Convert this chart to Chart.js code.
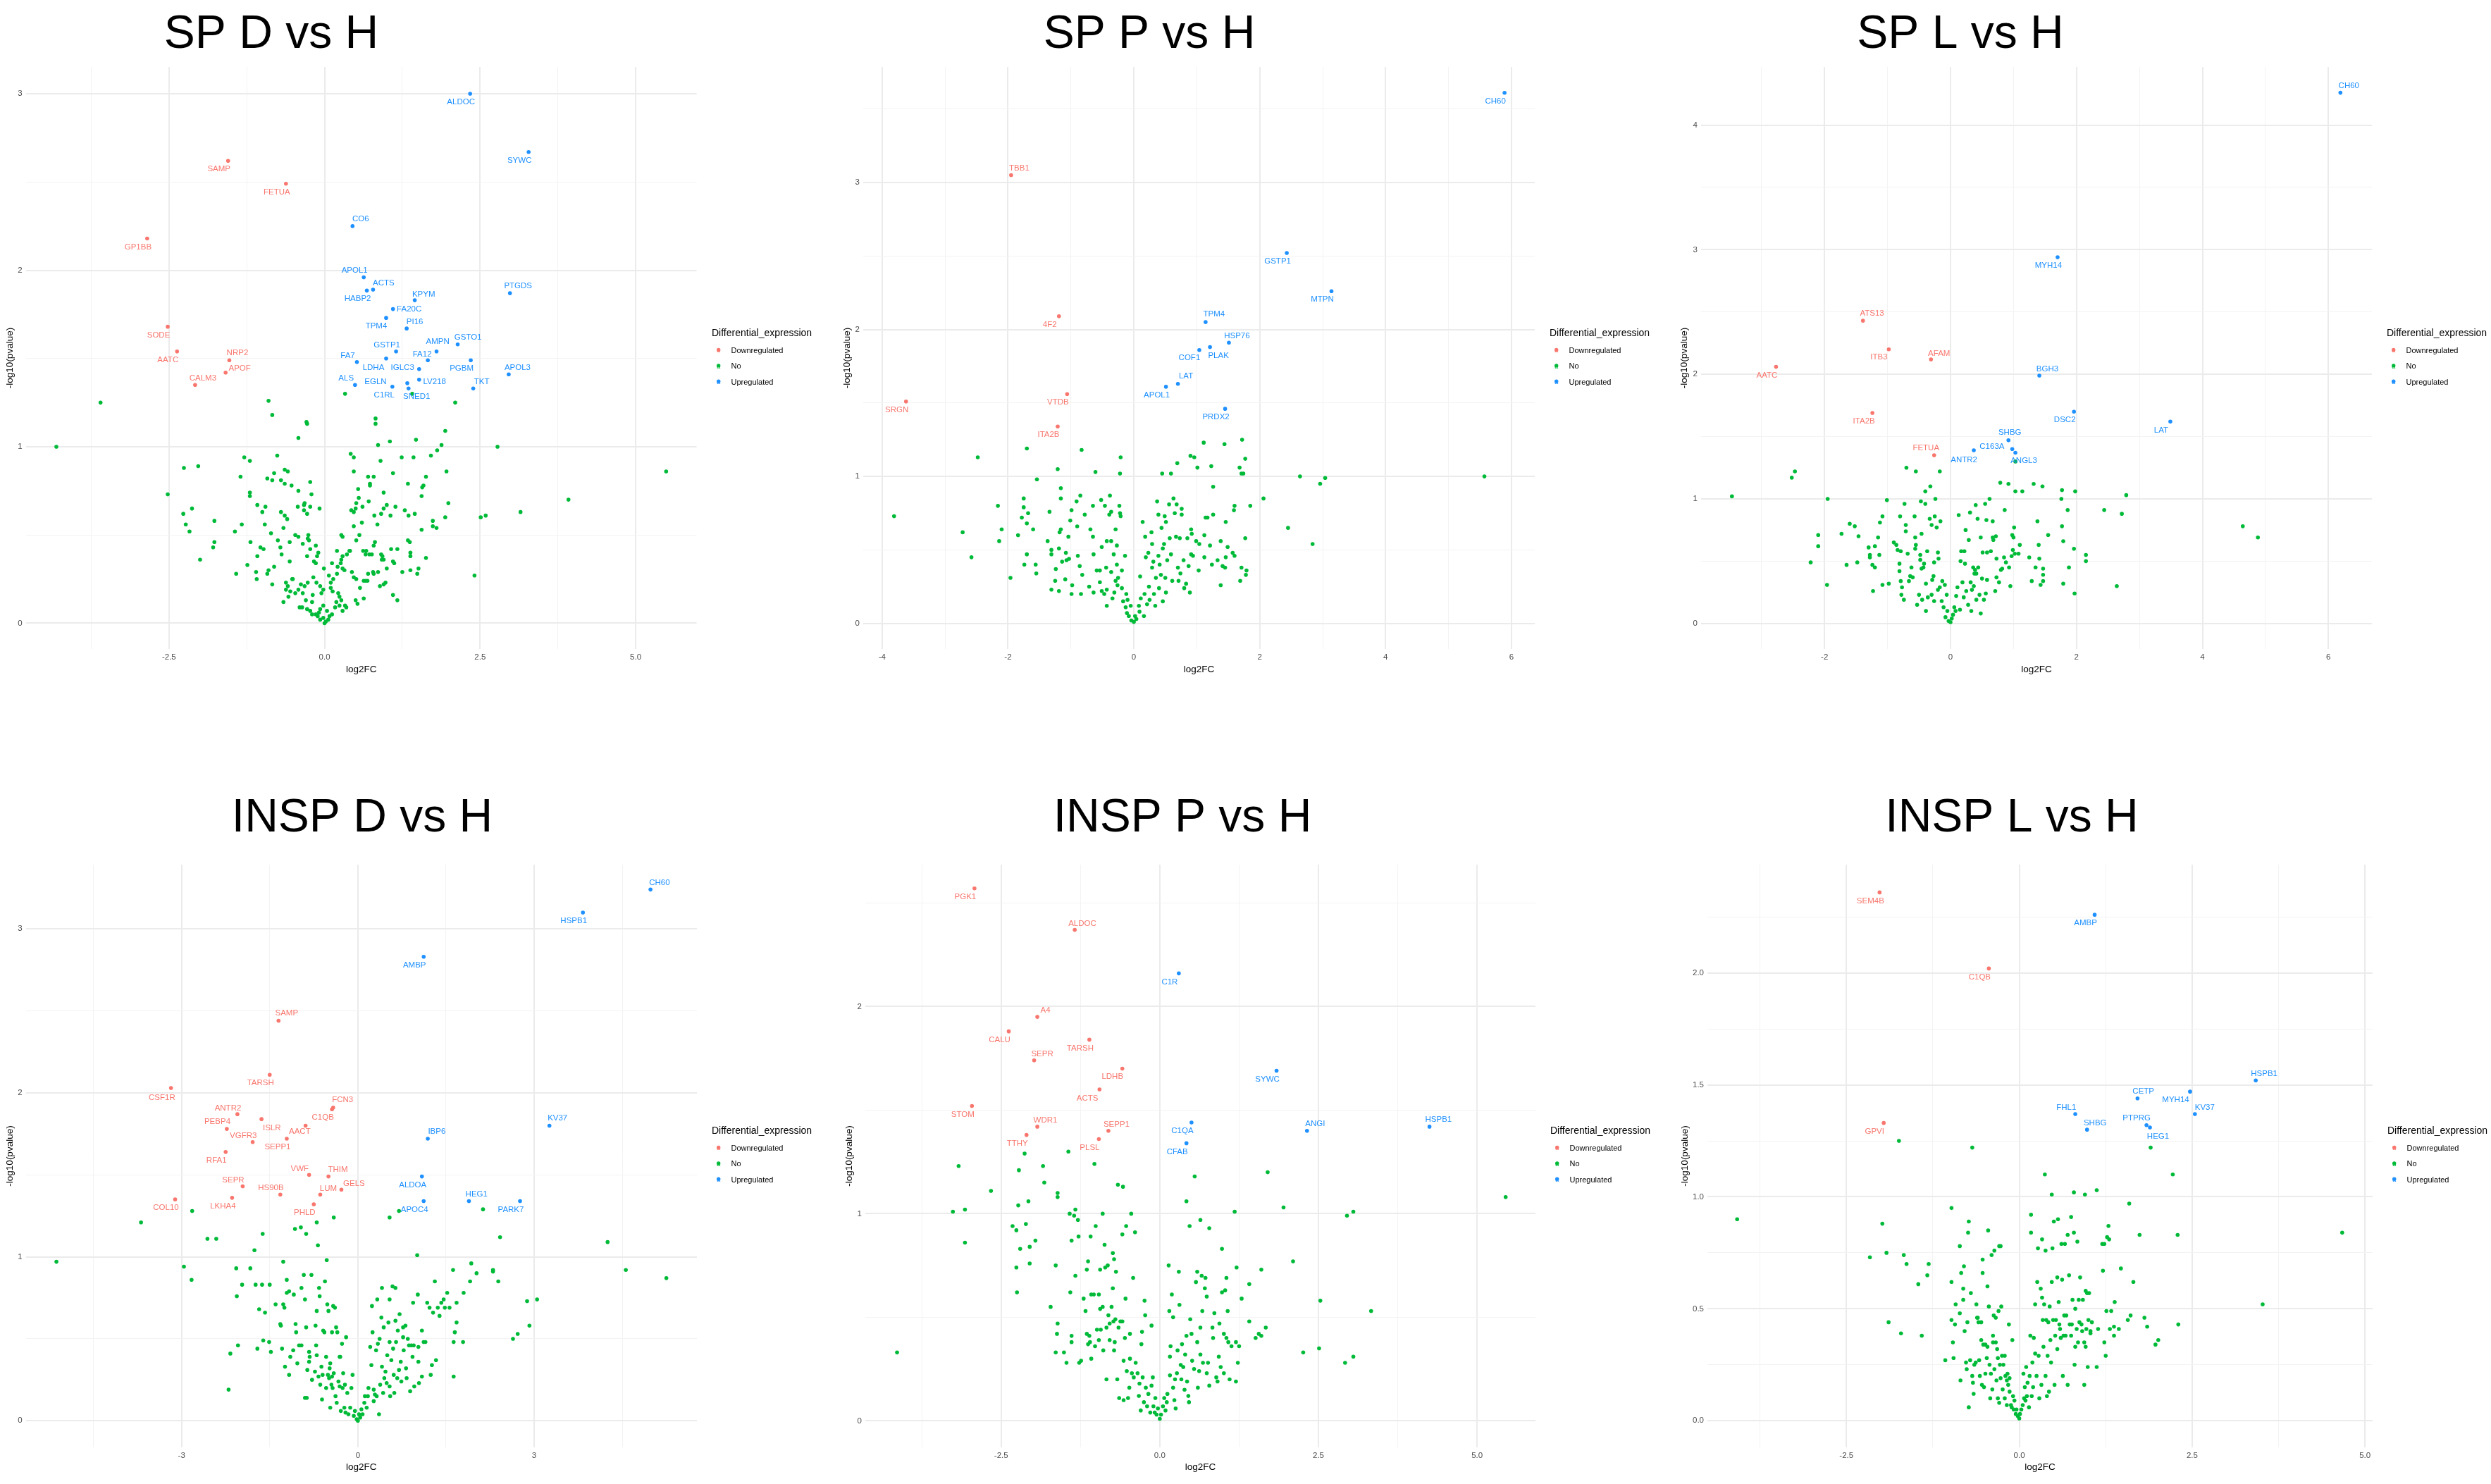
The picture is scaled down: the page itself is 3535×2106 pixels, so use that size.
<!DOCTYPE html>
<html>
<head>
<meta charset="utf-8">
<title>Volcano plots</title>
<script src="https://cdn.jsdelivr.net/npm/chart.js@4.4.1/dist/chart.umd.min.js"></script>
<style>
  html, body { margin: 0; padding: 0; background: #fff; }
  body { width: 3535px; height: 2106px; position: relative; overflow: hidden; }
  canvas { position: absolute; }
</style>
</head>
<body>
<script>
"use strict";

// ---- data: [name, log2FC, -log10(pvalue)] for labelled proteins, [log2FC, -log10(pvalue)] for the rest ----
const SPD_DOWN = [["SAMP",-1.55,2.62],["FETUA",-0.62,2.49],["GP1BB",-2.85,2.18],["SODE",-2.52,1.68],["AATC",-2.37,1.54],["NRP2",-1.53,1.49],["APOF",-1.59,1.42],["CALM3",-2.08,1.35]];
const SPD_UP = [["ALDOC",2.34,3.00],["SYWC",3.28,2.67],["CO6",0.45,2.25],["APOL1",0.63,1.96],["ACTS",0.78,1.89],["HABP2",0.68,1.885],["KPYM",1.45,1.83],["PTGDS",2.98,1.87],["FA20C",1.10,1.78],["TPM4",0.99,1.73],["PI16",1.32,1.67],["GSTO1",2.14,1.58],["AMPN",1.80,1.54],["GSTP1",1.15,1.54],["FA12",1.66,1.49],["PGBM",2.35,1.49],["FA7",0.52,1.48],["LDHA",0.99,1.50],["IGLC3",1.52,1.44],["APOL3",2.96,1.41],["LV218",1.52,1.38],["EGLN",1.33,1.36],["ALS",0.49,1.35],["C1RL",1.09,1.34],["SNED1",1.35,1.33],["TKT",2.39,1.33]];
const SPD_NO = [[-3.60,1.25],[-0.90,1.26],[-0.84,1.18],[2.10,1.25],[0.33,1.30],[1.41,1.30],[-0.29,1.14],[-0.28,1.13],[0.82,1.16],[0.82,1.13],[1.94,1.09],[-0.42,1.05],[1.47,1.04],[-4.31,1.00],[1.05,1.03],[0.86,1.01],[2.78,1.00],[1.88,1.01],[1.81,0.98],[1.71,0.95],[0.42,0.96],[0.47,0.94],[-0.76,0.95],[-1.29,0.94],[-1.20,0.92],[1.24,0.94],[1.43,0.94],[0.90,0.92],[1.96,0.86],[0.47,0.86],[1.10,0.85],[-2.26,0.88],[-2.03,0.89],[-1.35,0.83],[-0.64,0.87],[-0.59,0.86],[-0.81,0.85],[-0.92,0.82],[-0.84,0.81],[-0.70,0.81],[-0.64,0.79],[-0.53,0.78],[-0.23,0.80],[-0.42,0.75],[-0.21,0.73],[0.70,0.83],[0.79,0.83],[0.73,0.79],[0.73,0.78],[0.95,0.74],[1.63,0.83],[1.34,0.79],[1.59,0.78],[1.57,0.77],[1.56,0.72],[0.54,0.76],[0.55,0.71],[-2.52,0.73],[-1.20,0.74],[-1.20,0.72],[-1.08,0.67],[-0.95,0.66],[-0.32,0.68],[-0.33,0.67],[-0.23,0.66],[-0.08,0.65],[-0.43,0.66],[-0.33,0.64],[-0.28,0.62],[-1.00,0.63],[-0.70,0.63],[-0.64,0.61],[-0.60,0.59],[0.71,0.69],[0.51,0.68],[0.61,0.66],[0.43,0.64],[0.47,0.63],[0.50,0.65],[1.00,0.67],[1.14,0.66],[0.95,0.65],[1.29,0.64],[0.80,0.61],[0.91,0.62],[1.06,0.61],[1.35,0.61],[1.45,0.62],[1.74,0.58],[1.94,0.60],[1.99,0.68],[-2.27,0.62],[-2.13,0.65],[-2.23,0.56],[-2.17,0.52],[-1.77,0.58],[-1.33,0.56],[-1.44,0.52],[-0.96,0.56],[-0.66,0.54],[-0.86,0.51],[-1.77,0.46],[-1.79,0.43],[-2.00,0.36],[-1.42,0.28],[-1.19,0.46],[-1.24,0.33],[-1.03,0.43],[-0.98,0.42],[-1.08,0.38],[-1.10,0.29],[-0.90,0.30],[-0.92,0.28],[-1.09,0.25],[-0.84,0.22],[-0.81,0.32],[-0.75,0.47],[-0.71,0.43],[-0.69,0.39],[-0.56,0.46],[-0.56,0.35],[-0.47,0.50],[-0.42,0.49],[-0.26,0.50],[-0.27,0.48],[-0.25,0.47],[-0.35,0.45],[-0.23,0.42],[-0.14,0.44],[-0.10,0.40],[-0.12,0.38],[-0.28,0.38],[-0.17,0.35],[-0.14,0.34],[0.12,0.34],[0.20,0.41],[0.26,0.34],[0.27,0.36],[0.29,0.38],[0.36,0.39],[0.40,0.41],[0.29,0.49],[0.27,0.50],[0.56,0.50],[0.51,0.47],[0.60,0.57],[0.47,0.55],[0.41,0.41],[0.62,0.41],[0.67,0.41],[0.66,0.39],[0.72,0.39],[0.76,0.39],[0.79,0.44],[0.81,0.46],[0.91,0.39],[0.95,0.36],[0.92,0.36],[0.93,0.38],[1.07,0.42],[1.17,0.42],[1.10,0.35],[1.12,0.34],[1.25,0.29],[1.38,0.30],[1.38,0.38],[1.38,0.40],[1.34,0.47],[1.37,0.46],[1.63,0.37],[1.51,0.31],[1.49,0.28],[1.56,0.53],[1.74,0.55],[1.80,0.54],[2.41,0.27],[2.51,0.60],[2.59,0.61],[3.15,0.63],[3.92,0.70],[5.49,0.86],[0.85,0.56],[0.86,0.29],[0.89,0.21],[0.95,0.22],[0.98,0.23],[1.00,0.31],[0.78,0.29],[0.79,0.28],[0.70,0.28],[0.66,0.24],[0.63,0.24],[0.69,0.24],[0.57,0.20],[0.51,0.25],[0.47,0.26],[0.44,0.29],[0.32,0.30],[0.29,0.31],[0.21,0.32],[0.20,0.28],[0.14,0.25],[0.10,0.23],[0.07,0.27],[-0.01,0.31],[0.10,0.20],[0.13,0.18],[0.22,0.17],[0.24,0.15],[0.27,0.13],[0.33,0.10],[0.35,0.09],[0.53,0.11],[0.50,0.13],[0.63,0.14],[1.10,0.16],[1.17,0.13],[-0.18,0.26],[-0.13,0.23],[-0.07,0.21],[-0.02,0.19],[-0.05,0.17],[-0.19,0.16],[-0.20,0.12],[-0.30,0.13],[-0.35,0.17],[-0.32,0.21],[-0.27,0.23],[-0.38,0.22],[-0.42,0.19],[-0.47,0.17],[-0.55,0.18],[-0.58,0.15],[-0.62,0.19],[-0.62,0.23],[-0.51,0.25],[-0.66,0.12],[-0.59,0.21],[-0.40,0.09],[-0.28,0.08],[-0.20,0.05],[-0.14,0.05],[-0.09,0.06],[-0.07,0.08],[-0.02,0.10],[0.04,0.07],[0.08,0.04],[0.12,0.05],[0.17,0.09],[0.19,0.12],[0.24,0.10],[0.29,0.07],[0.06,0.02],[0.02,0.01],[0.00,0.00],[-0.02,0.03],[-0.07,0.02],[-0.11,0.04],[-0.23,0.07],[-0.36,0.09],[-0.52,0.25]];

const SPP_DOWN = [["TBB1",-1.95,3.05],["4F2",-1.19,2.09],["VTDB",-1.06,1.56],["SRGN",-3.62,1.51],["ITA2B",-1.21,1.34]];
const SPP_UP = [["CH60",5.89,3.61],["GSTP1",2.43,2.52],["MTPN",3.14,2.26],["TPM4",1.14,2.05],["HSP76",1.51,1.91],["PLAK",1.21,1.88],["COF1",1.04,1.86],["LAT",0.70,1.63],["APOL1",0.51,1.61],["PRDX2",1.45,1.46]];
const SPP_NO = [[-3.81,0.73],[-2.72,0.62],[-2.58,0.45],[-2.48,1.13],[-1.96,0.31],[-2.16,0.80],[-2.10,0.64],[-2.14,0.56],[-1.84,0.60],[-1.75,0.85],[-1.75,0.79],[-1.68,0.75],[-1.78,0.72],[-1.70,0.68],[-1.60,0.64],[-1.70,0.47],[-1.74,0.40],[-1.70,1.19],[-1.54,0.98],[-1.55,0.34],[-1.56,0.40],[-1.34,0.76],[-1.37,0.56],[-1.31,0.50],[-1.31,0.47],[-1.31,0.23],[-1.24,0.37],[-1.25,0.29],[-1.21,1.05],[-1.19,0.51],[-1.19,0.22],[-1.16,0.92],[-1.16,0.85],[-1.16,0.64],[-1.18,0.62],[-1.14,0.42],[-1.09,0.30],[-1.08,0.48],[-1.07,0.43],[-1.03,0.44],[-1.04,0.59],[-1.01,0.70],[-0.99,0.77],[-0.99,0.20],[-0.98,0.26],[-0.91,0.83],[-0.90,0.66],[-0.89,0.46],[-0.86,0.39],[-0.85,0.87],[-0.84,0.20],[-0.83,1.18],[-0.82,0.33],[-0.78,0.74],[-0.71,0.25],[-0.69,0.64],[-0.65,0.80],[-0.65,0.59],[-0.64,0.47],[-0.64,0.21],[-0.61,1.03],[-0.59,0.36],[-0.54,0.36],[-0.54,0.28],[-0.52,0.84],[-0.51,0.52],[-0.51,0.22],[-0.47,0.20],[-0.46,0.80],[-0.44,0.38],[-0.43,0.56],[-0.43,0.23],[-0.43,0.12],[-0.39,0.74],[-0.38,0.87],[-0.36,0.76],[-0.36,0.56],[-0.36,0.35],[-0.34,0.17],[-0.32,0.47],[-0.31,0.21],[-0.29,0.29],[-0.29,0.64],[-0.27,0.53],[-0.27,0.40],[-0.26,0.26],[-0.25,0.31],[-0.23,0.80],[-0.22,0.75],[-0.21,1.13],[-0.22,1.02],[-0.21,0.73],[-0.19,0.36],[-0.19,0.24],[-0.17,0.15],[-0.14,0.46],[-0.13,0.11],[-0.12,0.20],[-0.11,0.07],[-0.10,0.16],[-0.08,0.05],[-0.05,0.12],[-0.04,0.02],[0.00,0.01],[0.02,0.05],[0.04,0.03],[0.08,0.12],[0.09,0.08],[0.10,0.32],[0.11,0.17],[0.14,0.69],[0.16,0.05],[0.18,0.59],[0.17,0.20],[0.19,0.45],[0.21,0.13],[0.23,0.48],[0.24,0.25],[0.25,0.16],[0.28,0.62],[0.29,0.38],[0.29,0.54],[0.31,0.42],[0.32,0.20],[0.34,0.12],[0.35,0.31],[0.37,0.83],[0.39,0.74],[0.39,0.46],[0.40,0.24],[0.41,0.40],[0.43,0.33],[0.44,0.65],[0.45,1.02],[0.46,0.51],[0.46,0.15],[0.48,0.54],[0.49,0.73],[0.50,0.31],[0.51,0.69],[0.51,0.21],[0.53,0.43],[0.56,0.81],[0.57,0.58],[0.59,0.47],[0.59,1.02],[0.61,0.29],[0.63,0.85],[0.65,0.75],[0.67,0.59],[0.69,1.09],[0.68,0.81],[0.70,0.38],[0.71,0.29],[0.73,0.58],[0.74,0.34],[0.76,0.74],[0.76,0.78],[0.79,0.43],[0.80,0.24],[0.83,0.27],[0.85,0.58],[0.87,0.39],[0.89,0.21],[0.90,1.14],[0.91,0.64],[0.91,0.47],[0.92,0.61],[0.94,0.46],[0.96,1.13],[0.99,0.56],[1.01,1.06],[1.03,0.36],[1.04,0.54],[1.11,1.23],[1.12,0.45],[1.12,0.60],[1.14,0.72],[1.17,0.72],[1.21,0.53],[1.23,1.07],[1.24,0.40],[1.26,0.74],[1.26,0.93],[1.33,0.43],[1.38,0.56],[1.38,0.26],[1.41,0.39],[1.44,1.22],[1.45,0.38],[1.46,0.69],[1.46,0.45],[1.49,0.52],[1.57,0.48],[1.59,0.77],[1.60,0.80],[1.60,0.46],[1.68,1.06],[1.69,0.29],[1.71,1.02],[1.71,0.38],[1.72,1.25],[1.74,1.02],[1.77,1.12],[1.77,0.58],[1.78,0.33],[1.79,0.36],[1.85,0.80],[2.06,0.85],[2.45,0.65],[2.64,1.00],[2.84,0.54],[2.96,0.95],[3.04,0.99],[5.57,1.00]];

const SPL_DOWN = [["ATS13",-1.39,2.43],["ITB3",-0.98,2.20],["AFAM",-0.31,2.12],["AATC",-2.77,2.06],["ITA2B",-1.24,1.69],["FETUA",-0.26,1.35]];
const SPL_UP = [["CH60",6.19,4.26],["MYH14",1.70,2.94],["BGH3",1.41,1.99],["DSC2",1.96,1.70],["LAT",3.49,1.62],["SHBG",0.92,1.47],["C163A",0.98,1.40],["ANTR2",0.37,1.39],["ANGL3",1.03,1.37]];
const SPL_NO = [[-3.47,1.02],[-2.52,1.17],[-2.47,1.22],[-2.22,0.49],[-2.10,0.71],[-2.10,0.62],[-1.96,0.31],[-1.95,1.00],[-1.73,0.72],[-1.65,0.47],[-1.60,0.80],[-1.52,0.78],[-1.48,0.49],[-1.46,0.70],[-1.30,0.61],[-1.28,0.55],[-1.28,0.53],[-1.24,0.47],[-1.23,0.26],[-1.20,0.62],[-1.20,0.45],[-1.15,0.69],[-1.13,0.55],[-1.12,0.81],[-1.08,0.86],[-1.08,0.31],[-1.01,0.99],[-0.98,0.32],[-0.90,0.65],[-0.86,0.63],[-0.84,0.59],[-0.81,0.48],[-0.81,0.42],[-0.80,0.86],[-0.79,0.58],[-0.79,0.34],[-0.78,0.23],[-0.77,0.29],[-0.74,0.19],[-0.73,0.96],[-0.71,0.79],[-0.71,0.74],[-0.70,1.25],[-0.68,0.56],[-0.66,0.34],[-0.64,0.38],[-0.62,0.45],[-0.60,0.37],[-0.57,0.86],[-0.56,0.69],[-0.56,0.60],[-0.55,0.63],[-0.55,1.22],[-0.53,0.15],[-0.50,0.23],[-0.48,0.51],[-0.48,0.55],[-0.47,0.98],[-0.46,0.72],[-0.46,0.44],[-0.45,0.19],[-0.43,0.45],[-0.42,0.48],[-0.40,0.96],[-0.40,1.06],[-0.39,0.32],[-0.39,0.10],[-0.37,0.58],[-0.36,0.21],[-0.33,0.84],[-0.32,1.10],[-0.30,0.23],[-0.30,0.79],[-0.29,0.35],[-0.27,0.38],[-0.26,0.18],[-0.26,0.49],[-0.25,0.86],[-0.24,1.00],[-0.22,0.77],[-0.20,0.57],[-0.20,0.27],[-0.19,0.52],[-0.17,1.22],[-0.17,0.29],[-0.16,0.82],[-0.14,0.18],[-0.13,0.34],[-0.11,0.13],[-0.09,0.31],[-0.08,0.05],[-0.06,0.23],[-0.05,0.10],[-0.03,0.02],[0.00,0.01],[0.02,0.04],[0.04,0.07],[0.06,0.13],[0.08,0.10],[0.09,0.22],[0.11,0.29],[0.13,0.87],[0.15,0.11],[0.16,0.50],[0.17,0.58],[0.19,0.33],[0.21,0.21],[0.22,0.58],[0.23,0.48],[0.24,0.75],[0.25,0.26],[0.28,0.15],[0.29,0.67],[0.31,0.89],[0.32,0.33],[0.33,0.10],[0.34,0.27],[0.36,0.45],[0.37,0.30],[0.38,0.40],[0.39,0.43],[0.40,0.95],[0.41,0.40],[0.41,0.19],[0.43,0.84],[0.44,0.45],[0.46,0.23],[0.48,0.69],[0.48,0.08],[0.50,0.36],[0.51,0.57],[0.53,0.19],[0.55,0.96],[0.56,0.24],[0.57,0.83],[0.58,0.35],[0.58,0.57],[0.62,1.00],[0.64,0.58],[0.67,0.82],[0.67,0.69],[0.68,0.67],[0.71,0.26],[0.72,0.70],[0.73,0.52],[0.73,0.37],[0.77,0.33],[0.79,1.13],[0.80,0.43],[0.82,0.44],[0.85,0.53],[0.86,0.91],[0.88,0.49],[0.92,1.12],[0.93,0.45],[0.95,0.30],[0.97,0.54],[0.98,0.71],[0.99,0.59],[1.00,0.69],[1.01,0.77],[1.02,0.56],[1.03,1.06],[1.03,1.30],[1.08,0.56],[1.10,0.63],[1.14,1.06],[1.25,0.53],[1.29,0.34],[1.32,1.12],[1.35,0.45],[1.38,0.82],[1.40,0.63],[1.41,0.52],[1.43,0.31],[1.46,1.10],[1.47,0.44],[1.47,0.39],[1.47,0.34],[1.55,0.71],[1.76,1.00],[1.77,1.07],[1.77,0.78],[1.79,0.66],[1.79,0.32],[1.86,0.91],[1.88,0.45],[1.96,0.60],[1.97,0.24],[1.98,1.06],[2.15,0.55],[2.15,0.50],[2.44,0.91],[2.64,0.30],[2.72,0.88],[2.79,1.03],[4.64,0.78],[4.88,0.69]];

const INSPD_DOWN = [["SAMP",-1.35,2.44],["TARSH",-1.50,2.11],["CSF1R",-3.18,2.03],["FCN3",-0.42,1.91],["C1QB",-0.44,1.90],["ANTR2",-2.05,1.87],["ISLR",-1.64,1.84],["PEBP4",-2.23,1.78],["AACT",-0.89,1.80],["SEPP1",-1.21,1.72],["VGFR3",-1.79,1.70],["RFA1",-2.25,1.64],["VWF",-0.83,1.50],["THIM",-0.50,1.49],["SEPR",-1.96,1.43],["HS90B",-1.32,1.38],["LUM",-0.64,1.38],["GELS",-0.28,1.41],["LKHA4",-2.14,1.36],["COL10",-3.11,1.35],["PHLD",-0.75,1.32]];
const INSPD_UP = [["CH60",4.98,3.24],["HSPB1",3.83,3.10],["AMBP",1.12,2.83],["KV37",3.26,1.80],["IBP6",1.19,1.72],["ALDOA",1.09,1.49],["HEG1",1.89,1.34],["PARK7",2.76,1.34],["APOC4",1.12,1.34]];
const INSPD_NO = [[-5.13,0.97],[-3.69,1.21],[-2.96,0.94],[-2.83,0.86],[-2.82,1.28],[-2.56,1.11],[-2.41,1.11],[-2.20,0.19],[-2.17,0.41],[-2.07,0.93],[-2.06,0.76],[-2.04,0.46],[-1.97,0.83],[-1.83,0.93],[-1.76,1.04],[-1.74,0.83],[-1.71,0.44],[-1.68,0.68],[-1.63,0.83],[-1.62,1.14],[-1.61,0.49],[-1.58,0.66],[-1.51,0.48],[-1.50,0.83],[-1.48,0.42],[-1.40,0.71],[-1.32,0.59],[-1.31,0.58],[-1.29,0.44],[-1.27,0.97],[-1.27,0.71],[-1.25,0.69],[-1.24,0.33],[-1.21,0.86],[-1.21,0.78],[-1.17,0.79],[-1.17,0.28],[-1.15,0.39],[-1.10,0.43],[-1.09,0.77],[-1.07,1.17],[-1.06,0.59],[-1.05,0.54],[-1.03,0.35],[-1.00,0.46],[-0.97,1.18],[-0.96,0.46],[-0.96,0.81],[-0.92,0.89],[-0.90,0.74],[-0.90,0.14],[-0.88,1.14],[-0.88,0.57],[-0.87,0.14],[-0.86,0.31],[-0.83,0.42],[-0.83,0.36],[-0.82,0.39],[-0.79,0.89],[-0.78,0.25],[-0.73,0.30],[-0.72,0.58],[-0.71,0.46],[-0.70,1.21],[-0.70,0.40],[-0.70,0.67],[-0.68,1.07],[-0.67,0.27],[-0.66,0.81],[-0.65,0.76],[-0.64,0.22],[-0.62,0.33],[-0.61,0.13],[-0.60,0.28],[-0.59,0.55],[-0.57,0.54],[-0.56,0.85],[-0.54,0.20],[-0.54,0.39],[-0.53,0.98],[-0.52,0.71],[-0.51,0.28],[-0.50,0.67],[-0.49,0.26],[-0.48,0.32],[-0.47,0.35],[-0.47,0.08],[-0.45,0.22],[-0.44,0.27],[-0.44,0.54],[-0.43,0.20],[-0.42,0.70],[-0.41,1.24],[-0.41,0.29],[-0.39,0.69],[-0.38,0.15],[-0.37,0.57],[-0.36,0.11],[-0.35,0.54],[-0.33,0.24],[-0.31,0.39],[-0.31,0.21],[-0.30,0.39],[-0.29,0.06],[-0.27,0.47],[-0.26,0.20],[-0.25,0.29],[-0.23,0.08],[-0.22,0.22],[-0.21,0.05],[-0.20,0.51],[-0.18,0.17],[-0.16,0.04],[-0.13,0.08],[-0.11,0.20],[-0.09,0.28],[-0.07,0.03],[-0.05,0.06],[-0.02,0.01],[0.00,0.00],[0.02,0.04],[0.04,0.02],[0.06,0.07],[0.08,0.04],[0.11,0.11],[0.12,0.15],[0.15,0.08],[0.17,0.15],[0.18,0.20],[0.21,0.45],[0.23,0.34],[0.24,0.70],[0.25,0.54],[0.27,0.12],[0.27,0.19],[0.29,0.16],[0.31,0.43],[0.32,0.15],[0.33,0.74],[0.34,0.47],[0.36,0.04],[0.37,0.50],[0.38,0.22],[0.40,0.63],[0.41,0.33],[0.41,0.81],[0.43,0.17],[0.44,0.57],[0.45,0.26],[0.47,0.30],[0.49,0.23],[0.50,0.40],[0.52,0.60],[0.54,0.74],[0.54,0.21],[0.54,0.48],[0.55,0.15],[0.57,0.37],[0.59,0.82],[0.60,0.44],[0.61,0.28],[0.62,0.17],[0.64,0.61],[0.64,0.81],[0.65,0.48],[0.67,0.26],[0.68,0.55],[0.70,0.31],[0.71,0.65],[0.73,0.36],[0.74,0.24],[0.77,0.57],[0.77,0.51],[0.78,0.43],[0.81,0.58],[0.82,0.32],[0.83,0.26],[0.85,0.50],[0.87,0.46],[0.89,0.18],[0.91,0.46],[0.93,0.39],[0.94,0.72],[0.95,0.46],[0.96,0.21],[1.01,1.01],[1.02,0.77],[1.03,0.36],[1.03,0.45],[1.04,0.23],[1.09,0.55],[1.09,0.27],[1.12,0.48],[1.15,0.48],[1.18,0.72],[1.22,0.69],[1.24,0.28],[1.26,0.34],[1.28,0.66],[1.31,0.85],[1.33,0.37],[1.36,0.69],[1.39,0.64],[1.42,0.72],[1.46,0.74],[1.48,0.69],[1.52,0.78],[1.56,0.69],[1.62,0.92],[1.63,0.48],[1.63,0.27],[1.65,0.54],[1.68,0.60],[1.68,0.72],[1.79,0.48],[1.80,0.78],[1.91,0.85],[1.93,0.96],[2.02,0.90],[2.13,1.29],[2.30,0.91],[2.30,0.92],[2.39,0.85],[2.42,1.12],[2.64,0.50],[2.72,0.53],[2.88,0.73],[2.92,0.58],[3.05,0.74],[4.25,1.09],[4.56,0.92],[5.25,0.87],[0.54,1.24],[0.70,1.28]];

const INSPP_DOWN = [["PGK1",-2.92,2.57],["ALDOC",-1.34,2.37],["A4",-1.93,1.95],["CALU",-2.38,1.88],["TARSH",-1.11,1.84],["SEPR",-1.98,1.74],["LDHB",-0.59,1.70],["ACTS",-0.95,1.60],["STOM",-2.96,1.52],["WDR1",-1.93,1.42],["SEPP1",-0.81,1.40],["TTHY",-2.10,1.38],["PLSL",-0.96,1.36]];
const INSPP_UP = [["C1R",0.30,2.16],["SYWC",1.84,1.69],["C1QA",0.50,1.44],["CFAB",0.42,1.34],["ANGI",2.32,1.40],["HSPB1",4.25,1.42]];
const INSPP_NO = [[-4.14,0.33],[-3.26,1.01],[-3.17,1.23],[-3.07,1.02],[-3.07,0.86],[-2.66,1.11],[-2.32,0.94],[-2.26,0.92],[-2.26,0.74],[-2.25,0.62],[-2.23,1.04],[-2.22,1.21],[-2.20,0.83],[-2.13,1.29],[-2.11,0.95],[-2.07,1.06],[-2.05,0.84],[-2.05,0.76],[-1.96,0.87],[-1.84,1.23],[-1.82,1.15],[-1.72,0.55],[-1.64,0.75],[-1.64,0.33],[-1.62,0.42],[-1.61,0.47],[-1.61,1.10],[-1.61,1.08],[-1.51,0.33],[-1.47,0.28],[-1.44,1.30],[-1.42,1.00],[-1.41,0.62],[-1.39,0.87],[-1.39,0.41],[-1.39,0.38],[-1.35,0.99],[-1.33,1.02],[-1.33,0.70],[-1.29,0.97],[-1.28,0.89],[-1.27,0.28],[-1.24,0.29],[-1.20,0.59],[-1.17,0.53],[-1.15,0.73],[-1.15,0.42],[-1.13,0.77],[-1.13,0.37],[-1.11,0.41],[-1.10,0.38],[-1.09,0.89],[-1.08,0.61],[-1.08,0.30],[-1.04,0.61],[-1.03,1.24],[-1.02,0.36],[-1.01,0.94],[-0.99,0.44],[-0.96,0.39],[-0.96,0.61],[-0.94,0.73],[-0.94,0.54],[-0.93,0.44],[-0.90,0.55],[-0.90,1.00],[-0.89,0.34],[-0.87,0.85],[-0.86,0.74],[-0.84,0.20],[-0.84,0.45],[-0.82,0.75],[-0.81,0.51],[-0.79,0.47],[-0.79,0.39],[-0.76,0.55],[-0.74,0.64],[-0.74,0.81],[-0.73,0.48],[-0.72,0.78],[-0.72,0.34],[-0.71,0.38],[-0.70,0.49],[-0.69,0.72],[-0.67,0.20],[-0.66,1.14],[-0.65,0.45],[-0.64,0.11],[-0.62,0.48],[-0.59,0.90],[-0.59,0.48],[-0.58,1.13],[-0.57,0.10],[-0.57,0.29],[-0.55,0.40],[-0.54,0.59],[-0.53,0.94],[-0.52,0.24],[-0.50,0.11],[-0.48,0.16],[-0.47,0.42],[-0.47,0.30],[-0.45,1.00],[-0.44,0.23],[-0.42,0.69],[-0.41,0.21],[-0.39,0.91],[-0.38,0.28],[-0.35,0.23],[-0.33,0.12],[-0.32,0.18],[-0.30,0.05],[-0.29,0.37],[-0.28,0.43],[-0.27,0.21],[-0.25,0.09],[-0.24,0.58],[-0.23,0.51],[-0.22,0.16],[-0.20,0.07],[-0.18,0.13],[-0.15,0.04],[-0.13,0.46],[-0.13,0.17],[-0.11,0.21],[-0.10,0.07],[-0.08,0.04],[-0.07,0.11],[-0.05,0.03],[-0.03,0.06],[0.00,0.01],[0.02,0.03],[0.05,0.07],[0.07,0.11],[0.09,0.05],[0.11,0.09],[0.12,0.13],[0.14,0.75],[0.15,0.53],[0.16,0.22],[0.16,0.31],[0.17,0.36],[0.19,0.61],[0.21,0.50],[0.21,0.16],[0.23,0.10],[0.24,0.20],[0.25,0.06],[0.27,0.23],[0.28,0.34],[0.30,0.72],[0.31,0.56],[0.33,0.27],[0.34,0.20],[0.35,0.37],[0.37,0.26],[0.39,0.15],[0.40,0.32],[0.42,0.41],[0.42,1.06],[0.43,0.19],[0.45,0.12],[0.46,0.09],[0.47,0.94],[0.48,0.49],[0.50,0.42],[0.51,0.29],[0.54,0.25],[0.55,1.18],[0.57,0.67],[0.59,0.38],[0.59,0.72],[0.60,0.16],[0.62,0.24],[0.64,0.97],[0.64,0.32],[0.64,0.45],[0.66,0.70],[0.67,0.53],[0.68,0.28],[0.71,0.64],[0.72,0.69],[0.74,0.60],[0.74,0.23],[0.76,0.28],[0.78,0.93],[0.78,0.17],[0.83,0.45],[0.84,0.40],[0.86,0.52],[0.89,0.21],[0.91,0.19],[0.93,0.31],[0.94,0.47],[0.96,0.26],[0.98,0.62],[0.98,0.83],[1.01,0.42],[1.01,0.23],[1.03,0.63],[1.05,0.69],[1.05,0.40],[1.07,0.53],[1.08,0.38],[1.10,0.20],[1.13,0.36],[1.18,1.01],[1.20,0.38],[1.20,0.19],[1.21,0.74],[1.23,0.28],[1.25,0.36],[1.29,0.59],[1.41,0.66],[1.41,0.48],[1.51,0.40],[1.56,0.42],[1.60,0.73],[1.60,0.41],[1.67,0.45],[1.70,1.20],[1.95,1.03],[2.10,0.77],[2.26,0.33],[2.51,0.35],[2.53,0.58],[2.92,0.28],[2.95,0.99],[3.05,1.01],[3.05,0.31],[3.33,0.53],[5.45,1.08]];

const INSPL_DOWN = [["SEM4B",-2.02,2.36],["C1QB",-0.44,2.02],["GPVI",-1.96,1.33]];
const INSPL_UP = [["AMBP",1.09,2.26],["HSPB1",3.42,1.52],["MYH14",2.47,1.47],["CETP",1.71,1.44],["KV37",2.54,1.37],["FHL1",0.81,1.37],["PTPRG",1.84,1.32],["HEG1",1.89,1.31],["SHBG",0.98,1.30]];
const INSPL_NO = [[-4.08,0.90],[-2.16,0.73],[-1.98,0.88],[-1.92,0.75],[-1.89,0.44],[-1.74,1.25],[-1.71,0.39],[-1.67,0.74],[-1.63,0.70],[-1.46,0.61],[-1.41,0.38],[-1.33,0.65],[-1.31,0.70],[-1.07,0.27],[-0.98,0.95],[-0.98,0.62],[-0.98,0.45],[-0.96,0.35],[-0.95,0.28],[-0.93,0.43],[-0.92,0.52],[-0.86,0.48],[-0.86,0.78],[-0.85,0.18],[-0.84,0.66],[-0.81,0.59],[-0.81,0.54],[-0.80,0.69],[-0.79,0.40],[-0.77,0.26],[-0.76,0.23],[-0.75,0.44],[-0.74,0.84],[-0.73,0.06],[-0.73,0.89],[-0.71,0.27],[-0.70,0.57],[-0.68,1.22],[-0.68,0.20],[-0.67,0.17],[-0.66,0.12],[-0.65,0.25],[-0.63,0.26],[-0.62,0.52],[-0.61,0.46],[-0.60,0.46],[-0.59,0.44],[-0.58,0.27],[-0.57,0.20],[-0.55,0.36],[-0.55,0.44],[-0.54,0.16],[-0.53,0.72],[-0.53,0.66],[-0.52,0.34],[-0.51,0.15],[-0.49,0.21],[-0.49,0.34],[-0.47,0.28],[-0.46,0.33],[-0.46,0.60],[-0.45,0.85],[-0.44,0.51],[-0.43,0.25],[-0.42,0.10],[-0.41,0.21],[-0.40,0.74],[-0.39,0.14],[-0.38,0.38],[-0.38,0.35],[-0.37,0.47],[-0.36,0.76],[-0.36,0.23],[-0.34,0.35],[-0.34,0.46],[-0.33,0.18],[-0.32,0.32],[-0.31,0.28],[-0.31,0.10],[-0.30,0.49],[-0.29,0.08],[-0.29,0.78],[-0.28,0.25],[-0.27,0.19],[-0.27,0.78],[-0.26,0.51],[-0.25,0.29],[-0.24,0.14],[-0.23,0.25],[-0.21,0.10],[-0.21,0.29],[-0.20,0.20],[-0.18,0.07],[-0.18,0.18],[-0.17,0.21],[-0.16,0.16],[-0.15,0.43],[-0.14,0.13],[-0.14,0.19],[-0.12,0.07],[-0.11,0.06],[-0.10,0.36],[-0.09,0.11],[-0.08,0.05],[-0.07,0.09],[-0.05,0.03],[-0.04,0.05],[-0.02,0.02],[0.00,0.01],[0.01,0.03],[0.03,0.05],[0.05,0.07],[0.06,0.21],[0.07,0.10],[0.08,0.15],[0.09,0.09],[0.10,0.24],[0.11,0.11],[0.12,0.17],[0.14,0.06],[0.15,0.20],[0.16,0.38],[0.17,0.92],[0.17,0.84],[0.18,0.11],[0.19,0.26],[0.20,0.15],[0.21,0.37],[0.23,0.30],[0.23,0.52],[0.25,0.20],[0.26,0.62],[0.27,0.77],[0.28,0.29],[0.29,0.10],[0.31,0.59],[0.32,0.16],[0.33,0.81],[0.33,0.55],[0.34,0.45],[0.35,0.33],[0.36,0.52],[0.37,1.10],[0.38,0.20],[0.38,0.76],[0.39,0.45],[0.40,0.11],[0.41,0.29],[0.42,0.44],[0.43,0.13],[0.44,0.51],[0.45,0.36],[0.46,0.26],[0.47,1.01],[0.47,0.62],[0.48,0.77],[0.49,0.45],[0.50,0.89],[0.51,0.16],[0.52,0.38],[0.53,0.45],[0.55,0.64],[0.55,0.32],[0.56,0.90],[0.57,0.53],[0.58,0.43],[0.59,0.41],[0.60,0.37],[0.61,0.79],[0.62,0.63],[0.63,0.20],[0.64,0.38],[0.65,0.47],[0.66,0.79],[0.67,0.38],[0.68,0.47],[0.70,0.16],[0.70,0.83],[0.72,0.65],[0.73,0.43],[0.75,0.38],[0.75,0.91],[0.76,0.43],[0.77,0.54],[0.79,0.84],[0.79,1.02],[0.80,0.25],[0.81,0.33],[0.81,0.50],[0.83,0.41],[0.84,0.80],[0.85,0.35],[0.86,0.54],[0.87,0.44],[0.88,0.64],[0.90,0.43],[0.91,0.40],[0.92,0.54],[0.94,0.16],[0.94,0.35],[0.95,1.01],[0.96,0.58],[0.96,0.33],[0.97,0.41],[0.98,0.57],[0.99,0.24],[1.00,0.45],[1.01,0.57],[1.03,0.39],[1.03,0.40],[1.05,0.44],[1.12,0.24],[1.12,1.03],[1.14,0.41],[1.20,0.79],[1.21,0.67],[1.23,0.79],[1.23,0.35],[1.25,0.29],[1.26,0.49],[1.27,0.82],[1.29,0.87],[1.30,0.81],[1.31,0.41],[1.33,0.49],[1.37,0.42],[1.37,0.38],[1.38,0.53],[1.44,0.41],[1.47,0.68],[1.57,0.45],[1.59,0.97],[1.61,0.47],[1.65,0.62],[1.74,0.83],[1.81,0.46],[1.85,0.42],[1.90,1.22],[1.97,0.34],[2.01,0.36],[2.22,1.10],[2.29,0.83],[2.30,0.43],[3.52,0.52],[4.67,0.84]];

// ---- label placement (ggrepel offsets, px) ----
const DEFAULT_NUDGE = [-13, 12];
const NUDGE_SPD = {CO6:[11.5,-10],APOL1:[-13,-10],ACTS:[15,-9],KPYM:[12.6,-8.7],PTGDS:[11.5,-10],FA20C:[23,0],TPM4:[-14,12],PI16:[11.5,-9.3],GSTO1:[14.6,-9.4],AMPN:[1.6,-13.7],GSTP1:[-13,-9.4],FA12:[-8,-8.6],FA7:[-13,-9],LDHA:[-18,13.4],IGLC3:[-23.6,-2],APOL3:[12.5,-9],LV218:[22,3.4],EGLN:[-45,-2],ALS:[-12.6,-9.3],C1RL:[-11.5,12],SNED1:[11.5,11.4],TKT:[12,-9.4],NRP2:[11.5,-10],APOF:[20,-6],CALM3:[11,-9.3]};
const NUDGE_SPP = {TBB1:[11.5,-10],TPM4:[12,-11],HSP76:[11.5,-9.8],COF1:[-14,11.5],PLAK:[12,12],LAT:[11.5,-11]};
const NUDGE_SPL = {CH60:[12,-10],ATS13:[12.8,-10.3],ITB3:[-14,11],AFAM:[11.5,-8.6],BGH3:[11.5,-9.2],ITA2B:[-12,11.5],SHBG:[2,-11],C163A:[-28.7,-3.4],ANTR2:[-14,13.8],ANGL3:[12,11.5],FETUA:[-11.5,-9.8]};
const NUDGE_INSPD = {CH60:[12.8,-9.2],SAMP:[11.5,-10.8],CSF1R:[-12.8,13.5],FCN3:[13.4,-10.8],ANTR2:[-13.4,-8],ISLR:[14.7,13],PEBP4:[-13.4,-9.8],AACT:[-8.3,8.1],VGFR3:[-13.4,-9.2],VWF:[-13.4,-8.7],THIM:[13.4,-9.8],SEPR:[-13.4,-8.7],HS90B:[-13.4,-9.8],LUM:[11.5,-8.7],GELS:[17.9,-8.7],IBP6:[12.8,-10.3],KV37:[11.5,-10.8],HEG1:[10.8,-9.2]};
const NUDGE_INSPP = {ALDOC:[10.8,-9.2],A4:[11.5,-9.2],SEPR:[11.5,-9.2],LDHB:[-14,11.4],ACTS:[-17.2,12.5],WDR1:[11.5,-9.2],SEPP1:[11.5,-9.2],ANGI:[11.5,-10.3],HSPB1:[12.8,-10.3]};
const NUDGE_INSPL = {HSPB1:[12,-9.2],CETP:[8.3,-10.3],MYH14:[-20.4,11.4],KV37:[14,-8.7],FHL1:[-12.8,-8.7],PTPRG:[-14,-9.8],HEG1:[11.5,12.5],SHBG:[11.5,-9.2]};

const FONT = '"Liberation Sans", Arial, Helvetica, sans-serif';
const COLORS = {down: "#F8766D", no: "#00BA38", up: "#1E90FF"};
const LEGEND_ITEMS = [["Downregulated", COLORS.down], ["No", COLORS.no], ["Upregulated", COLORS.up]];
const CELL_X = [0, 1178, 2356, 3535];
const CELL_Y = [0, 1066, 2106];

const PANELS = [
  {title: "SP D vs H", titleX: 385, titleY: 68, area: [36.7, 95, 988.6, 921], yW: 30.2, xH: 37, legend: [1010, 473.6],
   x: {min: -4.80, max: 5.98, major: [-2.5, 0, 2.5, 5], minor: [-3.75, -1.25, 1.25, 3.75], dp: 1},
   y: {min: -0.146, max: 3.152, major: [0, 1, 2, 3], minor: [0.5, 1.5, 2.5], dp: 0},
   down: SPD_DOWN, up: SPD_UP, no: SPD_NO, nudge: NUDGE_SPD},
  {title: "SP P vs H", titleX: 1631, titleY: 68, area: [1225, 95, 2178, 921], yW: 31, xH: 37, legend: [2199, 473.6],
   x: {min: -4.30, max: 6.37, major: [-4, -2, 0, 2, 4, 6], minor: [-3, -1, 1, 3, 5], dp: 0},
   y: {min: -0.174, max: 3.786, major: [0, 1, 2, 3], minor: [0.5, 1.5, 2.5, 3.5], dp: 0},
   down: SPP_DOWN, up: SPP_UP, no: SPP_NO, nudge: NUDGE_SPP},
  {title: "SP L vs H", titleX: 2782, titleY: 68, area: [2414, 95, 3366, 921], yW: 32, xH: 37, legend: [3387, 473.6],
   x: {min: -3.96, max: 6.69, major: [-2, 0, 2, 4, 6], minor: [-3, -1, 1, 3, 5], dp: 0},
   y: {min: -0.205, max: 4.467, major: [0, 1, 2, 3, 4], minor: [0.5, 1.5, 2.5, 3.5], dp: 0},
   down: SPL_DOWN, up: SPL_UP, no: SPL_NO, nudge: NUDGE_SPL},
  {title: "INSP D vs H", titleX: 514, titleY: 1180, area: [36.7, 1227, 989, 2054], yW: 30.8, xH: 36, legend: [1010, 1605.6],
   x: {min: -5.65, max: 5.77, major: [-3, 0, 3], minor: [-4.5, -1.5, 1.5, 4.5], dp: 0},
   y: {min: -0.162, max: 3.392, major: [0, 1, 2, 3], minor: [0.5, 1.5, 2.5], dp: 0},
   down: INSPD_DOWN, up: INSPD_UP, no: INSPD_NO, nudge: NUDGE_INSPD},
  {title: "INSP P vs H", titleX: 1678, titleY: 1180, area: [1228, 1227, 2179, 2054], yW: 30.6, xH: 36, legend: [2200, 1605.6],
   x: {min: -4.64, max: 5.92, major: [-2.5, 0, 2.5, 5], minor: [-3.75, -1.25, 1.25, 3.75], dp: 1},
   y: {min: -0.128, max: 2.685, major: [0, 1, 2], minor: [0.5, 1.5, 2.5], dp: 0},
   down: INSPP_DOWN, up: INSPP_UP, no: INSPP_NO, nudge: NUDGE_INSPP},
  {title: "INSP L vs H", titleX: 2855, titleY: 1180, area: [2423, 1227, 3367, 2054], yW: 39.6, xH: 36, legend: [3388, 1605.6],
   x: {min: -4.51, max: 5.11, major: [-2.5, 0, 2.5, 5], minor: [-3.75, -1.25, 1.25, 3.75], dp: 1},
   y: {min: -0.119, max: 2.484, major: [0, 0.5, 1, 1.5, 2], minor: [0.25, 0.75, 1.25, 1.75, 2.25], dp: 1},
   down: INSPL_DOWN, up: INSPL_UP, no: INSPL_NO, nudge: NUDGE_INSPL}
];

function axisOptions(ax, title, position, fitSize) {
  const ticks = ax.major.concat(ax.minor).sort((a, b) => a - b);
  const isMajor = v => ax.major.some(m => Math.abs(m - v) < 1e-9);
  return {
    type: "linear",
    position: position,
    min: ax.min,
    max: ax.max,
    bounds: "data",
    afterBuildTicks: scale => { scale.ticks = ticks.map(v => ({value: v})); },
    afterFit: scale => {
      if (position === "left") scale.width = fitSize;
      else scale.height = fitSize;
    },
    ticks: {
      autoSkip: false,
      maxRotation: 0,
      padding: 5,
      color: "#4D4D4D",
      font: {family: FONT, size: 11.5},
      callback: v => isMajor(v) ? v.toFixed(ax.dp) : ""
    },
    grid: {
      drawTicks: false,
      color: c => (c.tick && isMajor(c.tick.value)) ? "#EBEBEB" : "#F3F3F3",
      lineWidth: c => (c.tick && isMajor(c.tick.value)) ? 2 : 1
    },
    border: {display: false},
    title: {display: true, text: title, color: "#000", font: {family: FONT, size: 13.5}, padding: 0}
  };
}

// draws the gene labels, the panel title and the legend
function panelText(p, cell) {
  return {
    id: "panelText",
    afterDatasetsDraw(chart) {
      const ctx = chart.ctx;
      ctx.save();
      ctx.font = "11.5px " + FONT;
      ctx.textAlign = "center";
      ctx.textBaseline = "middle";
      chart.data.datasets.forEach((ds, di) => {
        if (!ds.labelled) return;
        ctx.fillStyle = ds.backgroundColor;
        chart.getDatasetMeta(di).data.forEach((el, i) => {
          const name = ds.data[i].name;
          const off = p.nudge[name] || DEFAULT_NUDGE;
          ctx.fillText(name, el.x + off[0], el.y + off[1]);
        });
      });
      ctx.restore();
    },
    afterDraw(chart) {
      const ctx = chart.ctx;
      ctx.save();
      ctx.fillStyle = "#000";
      ctx.font = "66px " + FONT;
      ctx.textAlign = "center";
      ctx.textBaseline = "alphabetic";
      ctx.fillText(p.title, p.titleX - cell.x, p.titleY - cell.y);

      const lx = p.legend[0] - cell.x, ly = p.legend[1] - cell.y;
      ctx.textAlign = "left";
      ctx.textBaseline = "middle";
      ctx.font = "14px " + FONT;
      ctx.fillText("Differential_expression", lx, ly);
      LEGEND_ITEMS.forEach(([label, color], i) => {
        const y = ly + 24.4 + i * 22.4;
        ctx.fillStyle = color;
        ctx.font = "9px " + FONT;
        ctx.textAlign = "center";
        ctx.fillText("a", lx + 9.7, y);
        ctx.beginPath();
        ctx.arc(lx + 9.7, y - 1.5, 2.7, 0, Math.PI * 2);
        ctx.fill();
        ctx.fillStyle = "#000";
        ctx.font = "11px " + FONT;
        ctx.textAlign = "left";
        ctx.fillText(label, lx + 27.5, y);
      });
      ctx.restore();
    }
  };
}

function pointSet(label, rows, color, named) {
  return {
    label: label,
    labelled: named,
    data: rows.map(r => named ? {x: r[1], y: r[2], name: r[0]} : {x: r[0], y: r[1]}),
    backgroundColor: color,
    borderColor: color,
    borderWidth: 0,
    pointRadius: 2.8,
    pointHoverRadius: 2.8
  };
}

PANELS.forEach((p, idx) => {
  const col = idx % 3, row = Math.floor(idx / 3);
  const cell = {x: CELL_X[col], y: CELL_Y[row], w: CELL_X[col + 1] - CELL_X[col], h: CELL_Y[row + 1] - CELL_Y[row]};
  const canvas = document.createElement("canvas");
  canvas.width = cell.w;
  canvas.height = cell.h;
  canvas.style.left = cell.x + "px";
  canvas.style.top = cell.y + "px";
  canvas.style.width = cell.w + "px";
  canvas.style.height = cell.h + "px";
  document.body.appendChild(canvas);

  const [l, t, r, b] = p.area;
  new Chart(canvas.getContext("2d"), {
    type: "scatter",
    data: {
      datasets: [
        pointSet("No", p.no, COLORS.no, false),
        pointSet("Downregulated", p.down, COLORS.down, true),
        pointSet("Upregulated", p.up, COLORS.up, true)
      ]
    },
    options: {
      responsive: false,
      devicePixelRatio: 1,
      animation: false,
      events: [],
      layout: {
        padding: {
          left: l - cell.x - p.yW,
          top: t - cell.y,
          right: cell.x + cell.w - r,
          bottom: cell.y + cell.h - b - p.xH
        }
      },
      scales: {
        x: axisOptions(p.x, "log2FC", "bottom", p.xH),
        y: axisOptions(p.y, "-log10(pvalue)", "left", p.yW)
      },
      plugins: {
        legend: {display: false},
        tooltip: {enabled: false},
        title: {display: false}
      }
    },
    plugins: [panelText(p, cell)]
  });
});
</script>
</body>
</html>
